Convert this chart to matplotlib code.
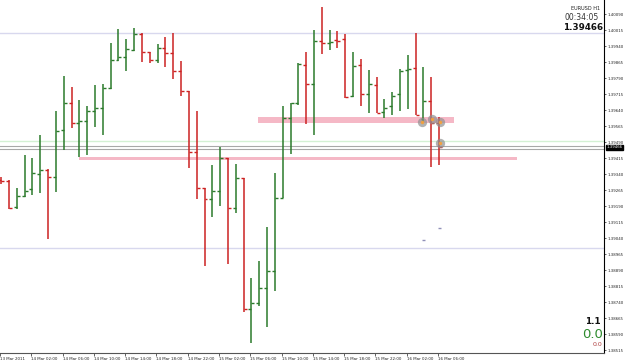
import matplotlib
matplotlib.use("Agg")
import matplotlib.pyplot as plt
import numpy as np

# EURUSD H1 bars, 13 Mar 2011 22:00 onwards
opens = [1.39312, 1.39307, 1.39185, 1.39237, 1.39270, 1.39340, 1.39359, 1.39326,
         1.39546, 1.39673, 1.39579, 1.39588, 1.39635, 1.39649, 1.39743, 1.39874,
         1.39888, 1.39921, 1.39996, 1.39912, 1.39874, 1.39931, 1.39907, 1.39823,
         1.39729, 1.39443, 1.39274, 1.39223, 1.39260, 1.39415, 1.39181, 1.39321,
         1.38707, 1.38735, 1.38806, 1.38885, 1.39228, 1.39603, 1.39673, 1.39851,
         1.39762, 1.39963, 1.39954, 1.39970, 1.39973, 1.39706, 1.39851, 1.39715,
         1.39757, 1.39631, 1.39659, 1.39715, 1.39828, 1.39837, 1.39598, 1.39682,
         1.39579]
highs = [1.39326, 1.39312, 1.39274, 1.39429, 1.39415, 1.39523, 1.39363, 1.39635,
         1.39799, 1.39748, 1.39687, 1.39659, 1.39757, 1.39762, 1.39954, 1.40020,
         1.39973, 1.40024, 1.40001, 1.39912, 1.39949, 1.39982, 1.40001, 1.39870,
         1.39729, 1.39635, 1.39274, 1.39382, 1.39467, 1.39415, 1.39387, 1.39321,
         1.38853, 1.38932, 1.39092, 1.39345, 1.39659, 1.39673, 1.39860, 1.39912,
         1.40015, 1.40123, 1.40015, 1.40010, 1.39996, 1.39912, 1.39879, 1.39828,
         1.39795, 1.39692, 1.39724, 1.39832, 1.39898, 1.40001, 1.39842, 1.39795,
         1.39607]
lows = [1.39293, 1.39176, 1.39176, 1.39232, 1.39242, 1.39251, 1.39035, 1.39256,
        1.39453, 1.39556, 1.39420, 1.39429, 1.39560, 1.39523, 1.39740, 1.39870,
        1.39823, 1.39917, 1.39865, 1.39860, 1.39860, 1.39842, 1.39785, 1.39706,
        1.39368, 1.39223, 1.38909, 1.39138, 1.39190, 1.38918, 1.39157, 1.38693,
        1.38548, 1.38721, 1.38623, 1.38792, 1.39228, 1.39434, 1.39663, 1.39574,
        1.39523, 1.39903, 1.39921, 1.39931, 1.39696, 1.39701, 1.39659, 1.39626,
        1.39626, 1.39603, 1.39617, 1.39635, 1.39645, 1.39617, 1.39579, 1.39373,
        1.39382]
closes = [1.39307, 1.39181, 1.39237, 1.39260, 1.39345, 1.39359, 1.39326, 1.39542,
          1.39673, 1.39579, 1.39588, 1.39635, 1.39649, 1.39743, 1.39874, 1.39888,
          1.39926, 1.39996, 1.39912, 1.39874, 1.39931, 1.39907, 1.39823, 1.39729,
          1.39443, 1.39274, 1.39223, 1.39260, 1.39415, 1.39181, 1.39321, 1.38707,
          1.38735, 1.38806, 1.38885, 1.39228, 1.39603, 1.39673, 1.39856, 1.39762,
          1.39963, 1.39954, 1.39959, 1.39965, 1.39701, 1.39846, 1.39715, 1.39762,
          1.39626, 1.39649, 1.39706, 1.39823, 1.39832, 1.39617, 1.39682, 1.39579,
          1.39466]

date_labels = ["13 Mar 2011", "14 Mar 02:00", "14 Mar 06:00", "14 Mar 10:00",
               "14 Mar 14:00", "14 Mar 18:00", "14 Mar 22:00", "15 Mar 02:00",
               "15 Mar 06:00", "15 Mar 10:00", "15 Mar 14:00", "15 Mar 18:00",
               "15 Mar 22:00", "16 Mar 02:00", "16 Mar 06:00"]
price_ticks = [round(1.40090 - k * 0.00075, 5) for k in range(22)]

# chart objects
zone_upper = (32.9, 57.9, 1.39579, 1.39607)   # x0, x1, lo, hi
zone_lower = (9.9, 66.0, 1.39406, 1.39422)
level_lines = [1.39999, 1.38993]
green_level = 1.39495
gray_levels = [1.39471, 1.39457]
arrow_x = [53.8, 55.1, 56.1, 56.1]
arrow_y = [1.39584, 1.39598, 1.39584, 1.39485]
dash_x = [53.96, 56.0]
dash_y = [1.39031, 1.39087]
bid = 1.39466

fig = plt.figure(figsize=(6.25, 3.62), dpi=100)
ax = fig.add_axes([0, 9 / 362, 604 / 625, 353 / 362])

x = np.arange(len(opens))
o = np.array(opens)
c = np.array(closes)
cols = np.where(c >= o, "#2b7a2b", "#cc2222")

# horizontal levels (behind bars)
for lv in level_lines:
    ax.axhline(lv, color="#d8d8ee", linewidth=1.0, zorder=1)
ax.axhline(green_level, color="#d4f0d4", linewidth=1.0, zorder=1)
for lv in gray_levels:
    ax.axhline(lv, color="#a8a8a8", linewidth=0.8, zorder=1)

# support / resistance zones
for x0, x1, lo, hi in (zone_upper, zone_lower):
    ax.fill_between([x0, x1], lo, hi, color="#f5b8c6", linewidth=0, zorder=2)

# OHLC bars
tick = 0.38
ax.vlines(x, lows, highs, colors=cols, linewidth=1.1, zorder=3)
ax.hlines(opens, x - tick, x, colors=cols, linewidth=1.0, zorder=3)
ax.hlines(closes, x, x + tick, colors=cols, linewidth=1.0, zorder=3)

# trade arrows
ax.scatter(arrow_x, arrow_y, s=45, color="#909090", alpha=0.7, zorder=4, linewidths=0)
ax.scatter(arrow_x, arrow_y, s=6, color="#f0a040", zorder=5, linewidths=0)
ax.hlines(dash_y, np.array(dash_x) - 0.2, np.array(dash_x) + 0.2,
          colors="#9090b8", linewidth=1.0, zorder=3)

ax.set_xlim(-0.064, 77.08)
ax.set_ylim(1.38501, 1.40156)

# axes styling
for side in ("left", "top"):
    ax.spines[side].set_visible(False)
ax.spines["right"].set_linewidth(0.8)
ax.spines["bottom"].set_linewidth(0.8)
ax.spines["bottom"].set_color("#555555")

ax.yaxis.tick_right()
ax.set_yticks(price_ticks)
ax.set_yticklabels([f"{p:.5f}" for p in price_ticks])
ax.tick_params(axis="y", labelsize=2.8, length=1.5, width=0.5, pad=1.0, colors="#222222")

ax.set_xticks(np.arange(len(date_labels)) * 4 - 0.15)
ax.set_xticklabels(date_labels, ha="left")
ax.tick_params(axis="x", labelsize=2.9, length=2, width=0.5, pad=0.8, colors="#222222")

# current price box on the axis
ax.text(1.004, (bid - 1.38501) / (1.40156 - 1.38501), f"{bid:.5f}",
        transform=ax.transAxes, ha="left", va="center", fontsize=2.8, color="white",
        bbox=dict(boxstyle="square,pad=0.15", facecolor="black", edgecolor="black"),
        zorder=10, clip_on=False)

# info texts
fig.text(600 / 625, 1 - 9 / 362, "EURUSD H1", ha="right", va="center", fontsize=3.6, color="#222222")
fig.text(599 / 625, 1 - 18 / 362, "00:34:05", ha="right", va="center", fontsize=5.5, color="#333333")
fig.text(603 / 625, 1 - 28 / 362, "1.39466", ha="right", va="center", fontsize=6.3,
         fontweight="bold", color="#111111")
fig.text(601 / 625, 1 - 322 / 362, "1.1", ha="right", va="center", fontsize=6.3,
         fontweight="bold", color="#111111")
fig.text(603 / 625, 1 - 335 / 362, "0.0", ha="right", va="center", fontsize=9.5, color="#2e8b2e")
fig.text(602 / 625, 1 - 345 / 362, "0.0", ha="right", va="center", fontsize=4.5, color="#b04040")

fig.savefig("out.png", dpi=100)
